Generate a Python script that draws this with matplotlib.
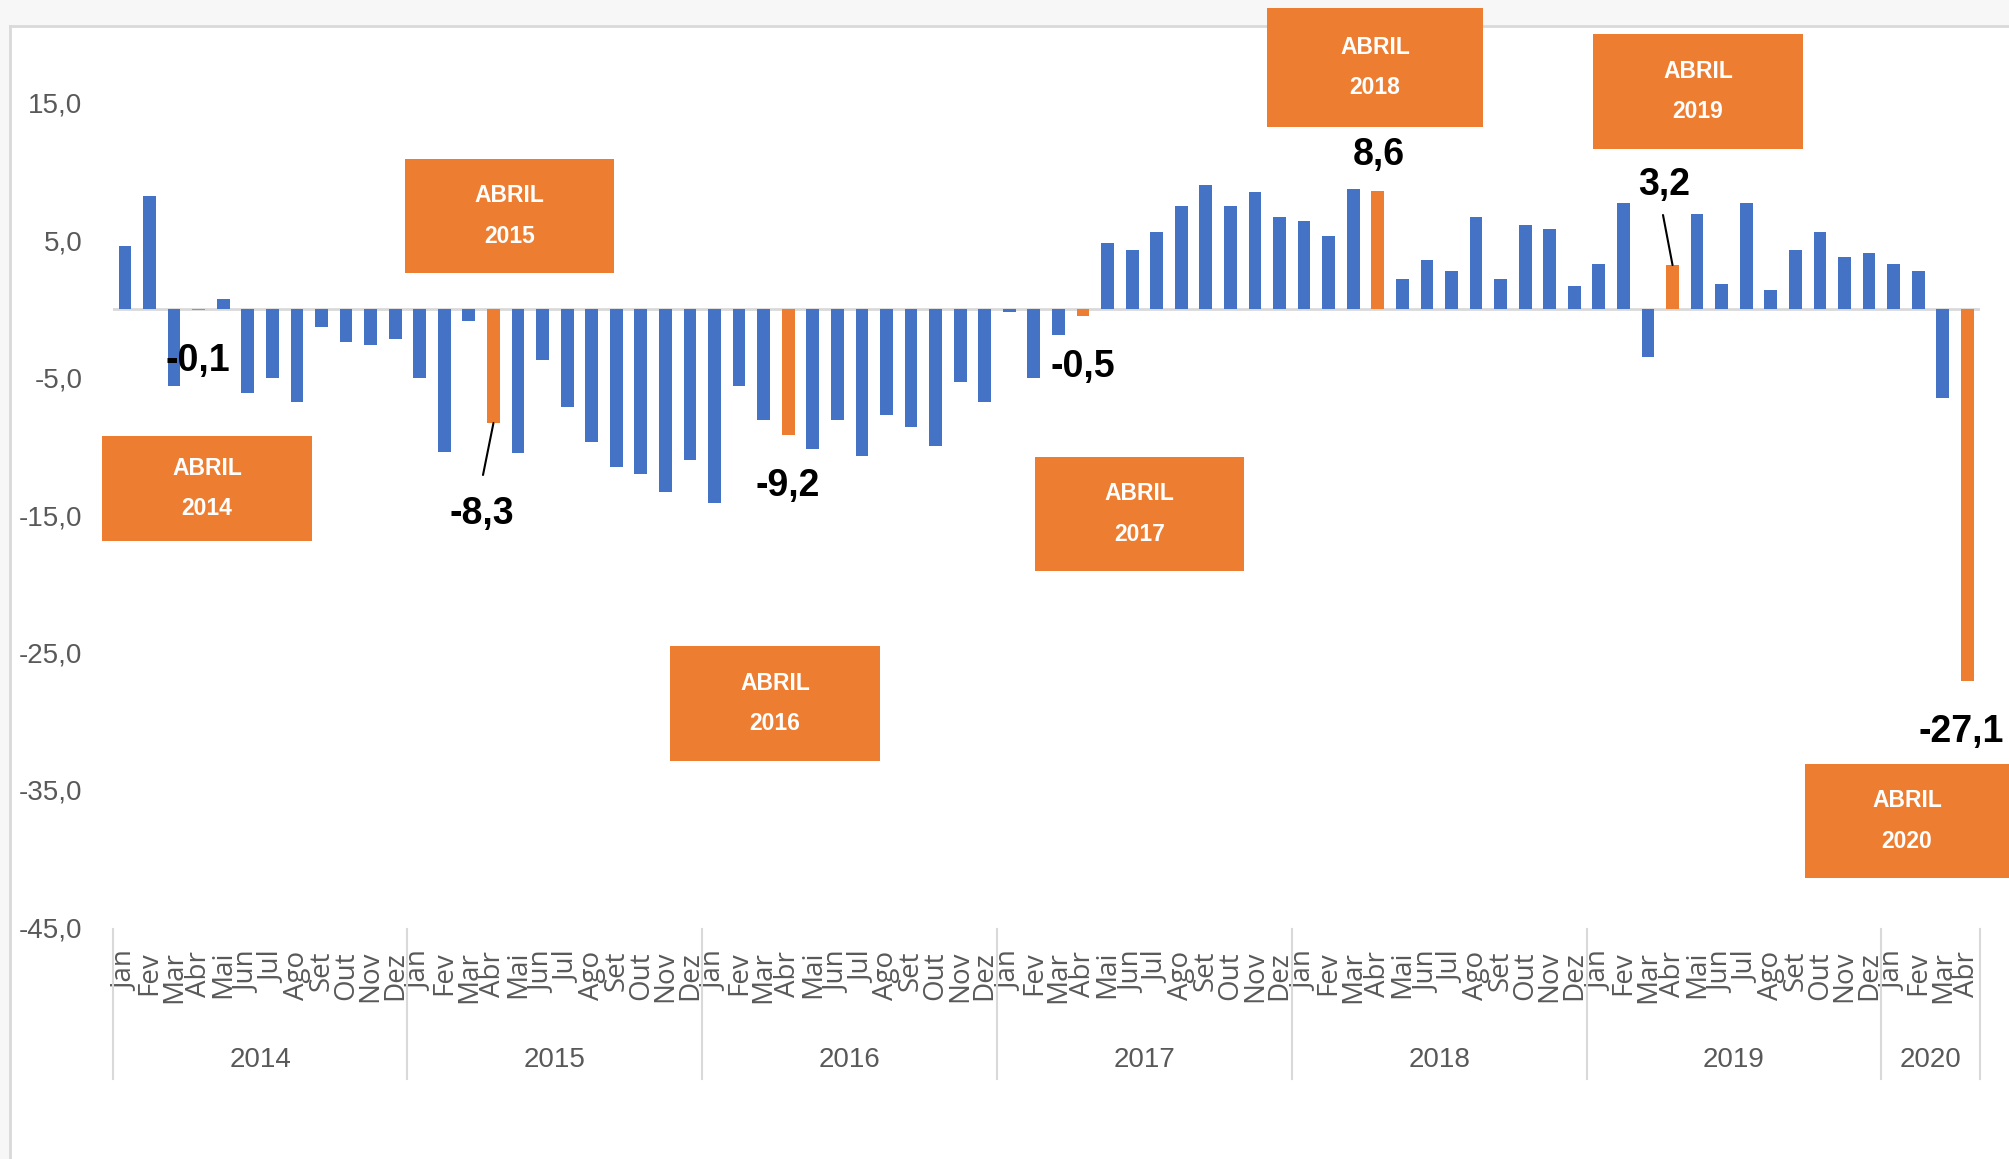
import matplotlib
matplotlib.use('Agg')
import matplotlib.pyplot as plt
import matplotlib.transforms as mtransforms
from matplotlib.patches import Rectangle
from matplotlib.lines import Line2D

# figure size in pixels
W, H = 2009, 1159

# data (variação mensal, %)
months = ['Jan', 'Fev', 'Mar', 'Abr', 'Mai', 'Jun', 'Jul', 'Ago', 'Set', 'Out', 'Nov', 'Dez']
years = ['2014', '2015', '2016', '2017', '2018', '2019', '2020']

v2014 = [4.6, 8.2, -5.6, -0.1, 0.7, -6.1, -5.0, -6.8, -1.3, -2.4, -2.6, -2.2]
v2015 = [-5.0, -10.4, -0.9, -8.3, -10.5, -3.7, -7.1, -9.7, -11.5, -12.0, -13.3, -11.0]
v2016 = [-14.1, -5.6, -8.1, -9.2, -10.2, -8.1, -10.7, -7.7, -8.6, -10.0, -5.3, -6.8]
v2017 = [-0.2, -5.0, -1.9, -0.5, 4.8, 4.3, 5.6, 7.5, 9.0, 7.5, 8.5, 6.7]
v2018 = [6.4, 5.3, 8.7, 8.6, 2.2, 3.6, 2.8, 6.7, 2.2, 6.1, 5.8, 1.7]
v2019 = [3.3, 7.7, -3.5, 3.2, 6.9, 1.8, 7.7, 1.4, 4.3, 5.6, 3.8, 4.1]
v2020 = [3.3, 2.8, -6.5, -27.1]

series = [v2014, v2015, v2016, v2017, v2018, v2019, v2020]

BLUE = '#4472C4'
ORANGE = '#ED7D31'
GRAY = '#595959'
LIGHT = '#D9D9D9'

vals = []
mlabels = []
colors = []
for ys in series:
    for i, v in enumerate(ys):
        vals.append(v)
        mlabels.append(months[i])
        colors.append(ORANGE if months[i] == 'Abr' else BLUE)

# layout of the callouts (full pixel coords, from top-left)
boxes = {
    '2014': (102, 436, 312, 541),
    '2015': (405, 159, 614, 273),
    '2016': (670, 646, 880, 761),
    '2017': (1035, 457, 1244, 571),
    '2018': (1267, 8, 1483, 127),
    '2019': (1593, 34, 1803, 149),
    '2020': (1805, 764, 2009, 878),
}
# value label (center x, baseline y)
vlabel_pos = {
    '2014': (198, 371),
    '2015': (482, 524),
    '2016': (788, 496),
    '2017': (1083, 377),
    '2018': (1379, 165),
    '2019': (1664, 195),
    '2020': (1961, 742),
}
# leader line start (near the label)
leaders = {'2015': (483, 475), '2019': (1663, 215)}


def fx(x):
    return x / W


def fy(y):
    return 1 - y / H


fig = plt.figure(figsize=(W / 100, H / 100), dpi=100)
fig.patch.set_facecolor('white')

# chart area frame (cropped Excel chart)
fig.add_artist(Rectangle((0, 0), fx(10), 1, transform=fig.transFigure,
                         facecolor='#F7F7F7', edgecolor='none', zorder=0))
fig.add_artist(Rectangle((0, fy(25)), 1, 25 / H, transform=fig.transFigure,
                         facecolor='#F7F7F7', edgecolor='none', zorder=0))
fig.add_artist(Line2D([fx(10), fx(10)], [0, fy(26)], transform=fig.transFigure,
                      color=LIGHT, lw=2))
fig.add_artist(Line2D([fx(10), 1], [fy(26), fy(26)], transform=fig.transFigure,
                      color=LIGHT, lw=2))

ax = fig.add_axes([fx(112.7), fy(927.3), (1979.6 - 112.7) / W, (927.3 - 26) / H])
ax.set_facecolor('none')

x = list(range(len(vals)))
ax.bar(x, vals, width=0.52, color=colors, zorder=2)
ax.axhline(0, color=LIGHT, lw=2, zorder=1)

ax.set_xlim(-0.5, len(vals) - 0.5)
ax.set_ylim(-45, 20.6)
for s in ax.spines.values():
    s.set_visible(False)

yt = list(range(-45, 16, 10))
ax.set_yticks(yt)
ax.set_yticklabels([f'{t:.1f}'.replace('.', ',') for t in yt],
                   fontsize=20, color=GRAY, family='Liberation Sans')
ax.tick_params(axis='y', length=0, pad=21.7)

ax.set_xticks(x)
ax.set_xticklabels(mlabels, rotation=90, fontsize=20, color=GRAY, family='Open Sans')
ax.tick_params(axis='x', length=0, pad=17)

# year groups under the month labels
trans = mtransforms.blended_transform_factory(ax.transData, fig.transFigure)
bounds = [-0.5]
for ys in series:
    bounds.append(bounds[-1] + len(ys))
for b in bounds:
    fig.add_artist(Line2D([b, b], [fy(929), fy(1079)], transform=trans,
                          color=LIGHT, lw=1.5, clip_on=False))
for i, yr in enumerate(years):
    cx = (bounds[i] + bounds[i + 1]) / 2
    fig.text(cx, fy(1060), yr, transform=trans, ha='center', va='center',
             fontsize=20, color=GRAY, family='Liberation Sans')

# April callouts
idx = 0
for yr, ys in zip(years, series):
    ai = idx + months.index('Abr')
    v = vals[ai]
    x0, y0, x1, y1 = boxes[yr]
    fig.add_artist(Rectangle((fx(x0), fy(y1)), (x1 - x0) / W, (y1 - y0) / H,
                             transform=fig.transFigure, facecolor=ORANGE,
                             edgecolor='none', zorder=5))
    fig.text(fx((x0 + x1) / 2), fy((y0 + y1) / 2), 'ABRIL\n' + yr, ha='center', va='center',
             color='white', fontsize=16.5, fontweight='bold', linespacing=1.95,
             family='Liberation Sans', zorder=6)
    lx, ly = vlabel_pos[yr]
    fig.text(fx(lx), fy(ly), f'{v:.1f}'.replace('.', ','), ha='center', va='baseline',
             fontsize=27, fontweight='bold', color='black', family='Liberation Sans', zorder=6)
    if yr in leaders:
        sx, sy = leaders[yr]
        ax.annotate('', xy=(ai, v), xycoords='data', xytext=(fx(sx), fy(sy)),
                    textcoords='figure fraction',
                    arrowprops=dict(arrowstyle='-', color='black', lw=1.5,
                                    shrinkA=0, shrinkB=0))
    idx += len(ys)

fig.savefig('out.png', dpi=100)
